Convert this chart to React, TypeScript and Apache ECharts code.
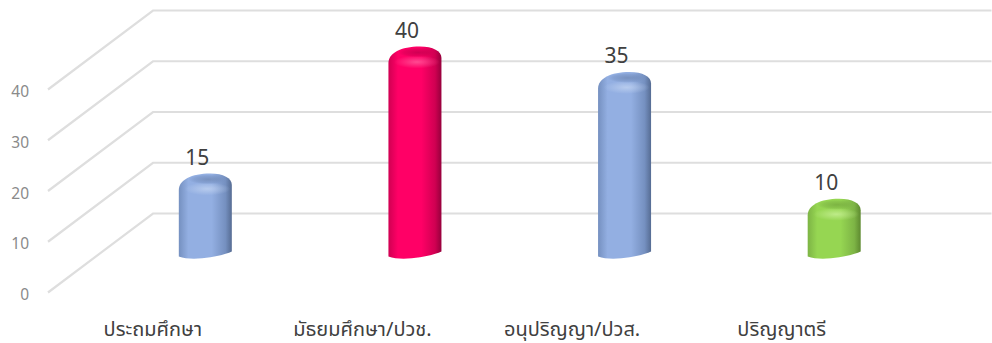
import React, { useEffect, useRef } from "react";
import * as echarts from "echarts";

const categories = ["ประถมศึกษา", "มัธยมศึกษา/ปวช.", "อนุปริญญา/ปวส.", "ปริญญาตรี"];
const values = [15, 40, 35, 10];
const yTicks = [0, 10, 20, 30, 40];
// base, shaded edge, deep edge, highlight
const barBase = ["#93AFE2", "#FF0066", "#93AFE2", "#96D652"];
const barEdge = ["#7590C0", "#D00052", "#7590C0", "#7DB445"];
const barDeep = ["#566C93", "#96003C", "#566C93", "#5E8A30"];
const barLight = ["#C0D2F0", "#FF5C9C", "#C0D2F0", "#C8F096"];

const DEPTH_X = 105;
const DEPTH_Y = -79;
const FONT = "Tahoma, 'Noto Sans Thai', 'Noto Sans', 'DejaVu Sans', sans-serif";

export default function App() {
  const ref = useRef<HTMLDivElement>(null);
  useEffect(() => {
    document.body.style.margin = "0";
    const chart = echarts.init(ref.current!, null, { renderer: "svg" });
    chart.setOption({
      animation: false,
      grid: { left: 48, top: 89.5, width: 838.5, height: 203 },
      xAxis: {
        type: "category",
        data: categories,
        axisLine: { show: false },
        axisTick: { show: false },
        axisLabel: { color: "#404040", fontSize: 20, margin: 27, fontFamily: FONT, interval: 0 },
      },
      yAxis: {
        type: "value",
        min: 0,
        max: 40,
        interval: 10,
        splitLine: { show: false },
        axisLine: { show: false },
        axisTick: { show: false },
        axisLabel: {
          color: "#8A8A8A",
          fontSize: 15.5,
          margin: 19,
          fontFamily: FONT,
          verticalAlign: "top",
          lineHeight: 6,
        },
      },
      series: [
        {
          type: "custom",
          silent: true,
          z: 1,
          data: yTicks.map((v) => [0, v]),
          renderItem: (params: any, api: any) => {
            const p = api.coord([0, api.value(1)]);
            const x0 = params.coordSys.x;
            const x1 = x0 + params.coordSys.width;
            return {
              type: "polyline",
              shape: {
                points: [
                  [x0, p[1]],
                  [x0 + DEPTH_X, p[1] + DEPTH_Y],
                  [x1 + DEPTH_X, p[1] + DEPTH_Y],
                ],
              },
              style: { fill: "none", stroke: "#DEDEDE", lineWidth: 2.2 },
            };
          },
        },
        {
          type: "custom",
          z: 2,
          data: values.map((v, i) => [i, v]),
          renderItem: (params: any, api: any) => {
            const i = api.value(0);
            const top = api.coord([i, api.value(1)]);
            const base = api.coord([i, 0]);
            const cx = top[0] + DEPTH_X / 2;
            const yt = top[1] + DEPTH_Y / 2;
            const yb = base[1] + DEPTH_Y / 2;
            const L = cx - 26.5;
            const R = cx + 26.5;
            const body = `M${L} ${yb + 3.5} L${L} ${yt + 13} C${L} ${yt + 3} ${cx - 14} ${yt - 3.5} ${cx + 5} ${yt - 3.5} C${cx + 18} ${yt - 3.5} ${R} ${yt + 1} ${R} ${yt + 8} L${R} ${yb - 1.5} C${cx + 17} ${yb + 3} ${cx - 12} ${yb + 9} ${L} ${yb + 3.5} Z`;
            const horizontal = new echarts.graphic.LinearGradient(0, 0, 1, 0, [
              { offset: 0, color: barEdge[i] },
              { offset: 0.18, color: barBase[i] },
              { offset: 0.62, color: barBase[i] },
              { offset: 0.88, color: barEdge[i] },
              { offset: 1, color: barDeep[i] },
            ]);
            const capShade = new echarts.graphic.RadialGradient(0.5, 0.5, 0.5, [
              { offset: 0, color: barDeep[i] },
              { offset: 0.7, color: barEdge[i] },
              { offset: 1, color: barEdge[i] + "00" },
            ]);
            const glow = new echarts.graphic.RadialGradient(0.5, 0.5, 0.5, [
              { offset: 0, color: barLight[i] },
              { offset: 1, color: barLight[i] + "00" },
            ]);
            return {
              type: "group",
              children: [
                { type: "path", shape: { pathData: body }, style: { fill: horizontal } },
                {
                  type: "ellipse",
                  shape: { cx: cx + 2, cy: yt + 12, rx: 23, ry: 6.5 },
                  style: { fill: glow, opacity: 0.8 },
                },
                {
                  type: "ellipse",
                  shape: { cx: cx + 3, cy: yt + 2.5, rx: 20, ry: 5 },
                  style: { fill: capShade, opacity: 0.45 },
                },
                {
                  type: "text",
                  x: cx - 8,
                  y: yt - 18.5,
                  style: {
                    text: String(api.value(1)),
                    fill: "#404040",
                    fontSize: 21,
                    fontFamily: FONT,
                    align: "center",
                    verticalAlign: "middle",
                  },
                },
              ],
            };
          },
        },
      ],
    });
    return () => chart.dispose();
  }, []);
  return <div ref={ref} style={{ width: 992, height: 343 }} />;
}
